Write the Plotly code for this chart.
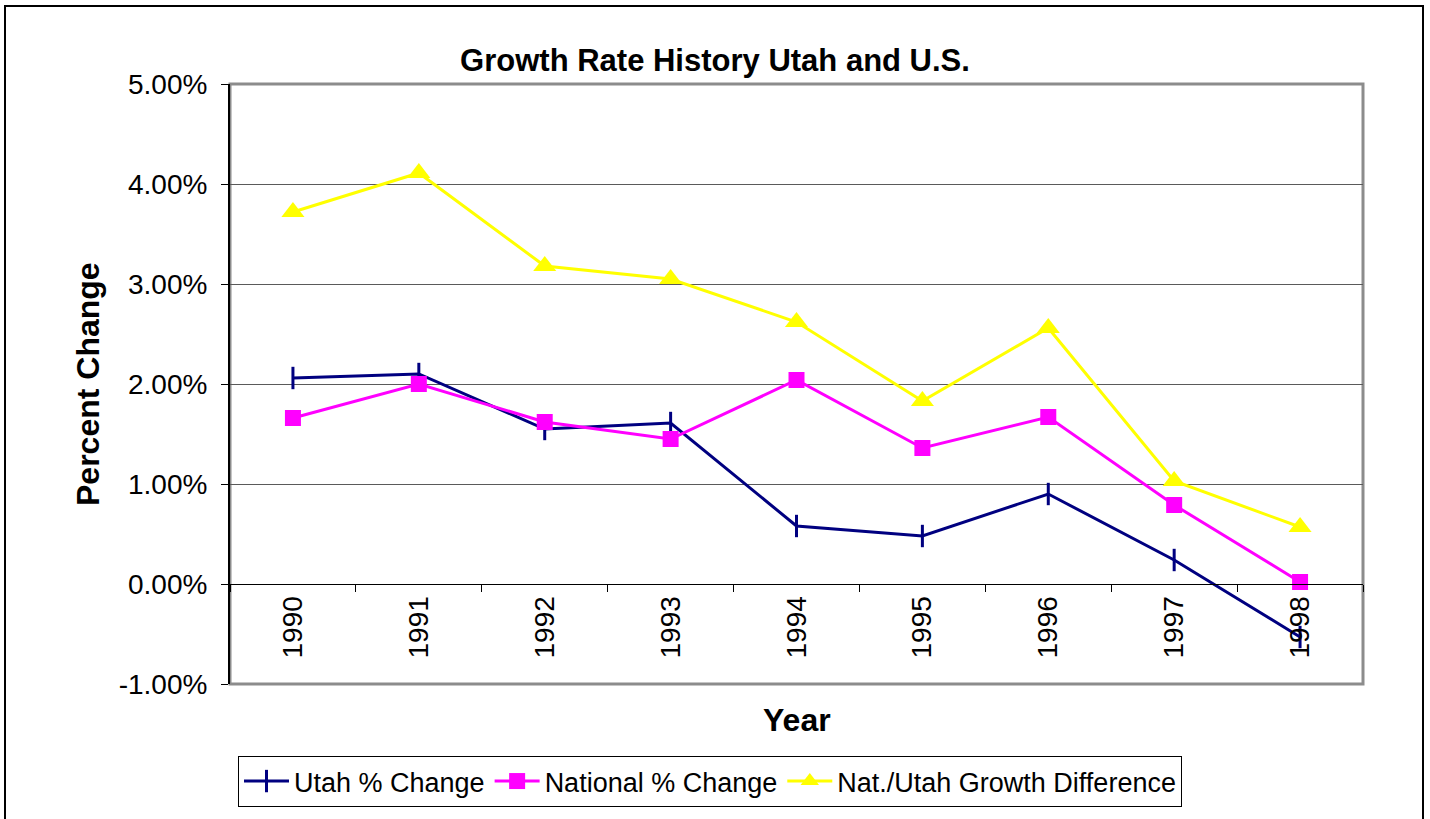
import plotly.graph_objects as go

years = ["1990", "1991", "1992", "1993", "1994", "1995", "1996", "1997", "1998"]
utah = [2.06, 2.10, 1.55, 1.61, 0.58, 0.48, 0.90, 0.24, -0.53]
national = [1.66, 2.00, 1.62, 1.45, 2.04, 1.36, 1.67, 0.79, 0.02]
difference = [3.72, 4.11, 3.18, 3.05, 2.62, 1.83, 2.56, 1.03, 0.57]
y_ticks = [-1, 0, 1, 2, 3, 4, 5]
y_tick_text = ["-1.00%", "0.00%", "1.00%", "2.00%", "3.00%", "4.00%", "5.00%"]

FONT = "Liberation Sans, Arial, sans-serif"

fig = go.Figure()
fig.add_trace(go.Scatter(
    x=years, y=utah, name="Utah % Change", mode="lines+markers",
    line=dict(color="#000080", width=3),
    marker=dict(symbol="line-ns", size=16, color="#000080",
                line=dict(color="#000080", width=3)),
))
fig.add_trace(go.Scatter(
    x=years, y=national, name="National % Change", mode="lines+markers",
    line=dict(color="#FF00FF", width=3),
    marker=dict(symbol="square", size=16, color="#FF00FF"),
))
fig.add_trace(go.Scatter(
    x=years, y=difference, name="Nat./Utah Growth Difference", mode="lines+markers",
    line=dict(color="#FFFF00", width=3),
    marker=dict(symbol="triangle-up", size=20, color="#FFFF00"),
))

L, R, T, B = 230, 67, 84, 135
W, H = 1430, 819
pw, ph = W - L - R, H - T - B

fig.update_layout(
    width=W, height=H,
    margin=dict(l=L, r=R, t=T, b=B, autoexpand=False),
    paper_bgcolor="white", plot_bgcolor="white",
    font=dict(family=FONT, color="black"),
    showlegend=True,
    legend=dict(
        orientation="h", x=(710 - L) / pw, xanchor="center",
        y=(H - B - 756) / ph, yanchor="top",
        bordercolor="black", borderwidth=1,
        font=dict(size=27, family=FONT), itemwidth=45,
        traceorder="normal", tracegroupgap=0,
    ),
    title=dict(text="<b>Growth Rate History Utah and U.S.</b>",
               xref="container", x=0.5, xanchor="center",
               y=1 - 60 / H, yanchor="middle",
               font=dict(size=31, family=FONT)),
)

fig.update_xaxes(
    type="category", anchor="free", position=1 / 6,
    showline=True, linecolor="black", linewidth=1,
    ticks="outside", tickson="boundaries", ticklen=7, tickcolor="black",
    tickangle=-90, tickfont=dict(size=28, family=FONT),
    showgrid=False, zeroline=False, range=[-0.5, 8.5],
)
fig.update_yaxes(
    range=[-1, 5], tickvals=y_ticks, ticktext=y_tick_text,
    tickfont=dict(size=28, family=FONT),
    showline=True, linecolor="black", linewidth=2,
    ticks="outside", ticklen=7, tickcolor="black",
    ticklabelstandoff=8,
    showgrid=True, gridcolor="#5a5a5a", gridwidth=1,
    zeroline=False,
)

shapes = [
    # plot-area border (gray)
    dict(type="rect", xref="paper", yref="paper", x0=0, x1=1, y0=0, y1=1,
         line=dict(color="#8c8c8c", width=3), layer="below"),
    # outer chart border
    dict(type="rect", xref="paper", yref="paper",
         x0=(5 - L) / pw, x1=(1423 - L) / pw,
         y0=(H - B - 830) / ph, y1=(H - B - 6) / ph,
         line=dict(color="black", width=2)),
]
fig.update_layout(shapes=shapes)

fig.add_annotation(text="<b>Percent Change</b>", xref="paper", yref="paper",
                   x=(88 - L) / pw, y=0.5, textangle=-90, showarrow=False,
                   xanchor="center", yanchor="middle",
                   font=dict(size=32, family=FONT))
fig.add_annotation(text="<b>Year</b>", xref="paper", yref="paper",
                   x=0.5, y=(H - B - 720) / ph, showarrow=False,
                   xanchor="center", yanchor="middle",
                   font=dict(size=32, family=FONT))

fig.write_html("out.html", config={"displayModeBar": False},
               post_script="document.body.style.margin='0px';document.body.style.padding='0px';")
